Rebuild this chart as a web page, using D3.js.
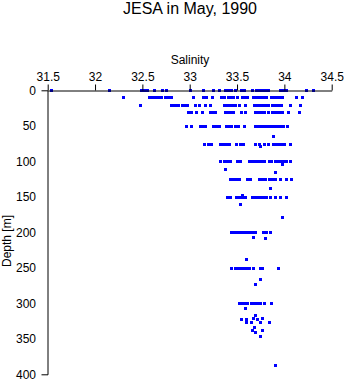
<!DOCTYPE html>
<html><head><meta charset="utf-8">
<script src="https://cdn.jsdelivr.net/npm/d3@7"></script>
<style>body{margin:0;background:#fff}svg{display:block}text{font-family:"Liberation Sans",Arial,sans-serif}</style>
</head><body><div id="chart"></div>
<script>
const xTicks = [31.5, 32, 32.5, 33, 33.5, 34, 34.5];
const yTicks = [0, 50, 100, 150, 200, 250, 300, 350, 400];

const rowDepths = [0, 10, 20, 30, 50, 75, 100, 125, 150, 200, 250, 300];
const sal0 = [31.535, 32.148, 32.486, 32.507, 32.528, 32.549, 32.623, 32.707, 32.75, 33.003, 33.14, 33.246, 33.309, 33.373, 33.405, 33.436, 33.479, 33.542, 33.574, 33.658, 33.70, 33.732, 33.764, 33.795, 33.827, 33.954, 33.986, 34.017, 34.228, 34.302];
const sal10 = [32.30, 32.57, 32.59, 32.61, 32.63, 32.67, 32.70, 32.74, 32.77, 32.80, 33.03, 33.14, 33.17, 33.24, 33.33, 33.36, 33.40, 33.43, 33.46, 33.50, 33.55, 33.58, 33.61, 33.67, 33.70, 33.72, 33.75, 33.78, 33.81, 33.86, 33.89, 33.92, 33.95, 33.97, 34.12, 34.19];
const sal20 = [32.48, 32.80, 32.82, 32.86, 32.88, 32.92, 32.95, 32.97, 33.06, 33.10, 33.16, 33.21, 33.36, 33.39, 33.42, 33.45, 33.48, 33.52, 33.58, 33.68, 33.71, 33.74, 33.77, 33.80, 33.83, 33.87, 33.90, 33.93, 33.96, 34.06, 34.16];
const sal30 = [32.98, 33.01, 33.07, 33.13, 33.21, 33.23, 33.25, 33.27, 33.37, 33.40, 33.43, 33.46, 33.54, 33.58, 33.69, 33.72, 33.75, 33.78, 33.83, 33.87, 33.90, 33.93, 33.96, 33.98, 34.04, 34.15];
const sal50 = [32.96, 33.01, 33.11, 33.14, 33.16, 33.25, 33.28, 33.31, 33.38, 33.40, 33.44, 33.48, 33.51, 33.57, 33.69, 33.72, 33.75, 33.78, 33.81, 33.84, 33.87, 33.90, 33.93, 33.96, 33.99, 34.03];
const sal75 = [33.15, 33.19, 33.23, 33.32, 33.35, 33.38, 33.42, 33.49, 33.53, 33.56, 33.69, 33.73, 33.78, 33.83, 33.88, 33.91, 33.94, 33.97, 34.00, 34.06];
const sal100 = [33.32, 33.36, 33.39, 33.43, 33.50, 33.53, 33.63, 33.66, 33.69, 33.72, 33.75, 33.78, 33.84, 33.86, 33.90, 33.93, 33.96, 33.99, 34.02, 34.06];
const sal125 = [33.43, 33.46, 33.49, 33.52, 33.61, 33.64, 33.73, 33.76, 33.80, 33.84, 33.87, 33.90, 33.95, 34.02, 34.07];
const sal150 = [33.39, 33.43, 33.49, 33.52, 33.55, 33.58, 33.66, 33.69, 33.72, 33.75, 33.78, 33.81, 33.85, 33.90, 33.95, 34.02];
const sal200 = [33.44, 33.47, 33.50, 33.53, 33.56, 33.59, 33.63, 33.66, 33.69, 33.77, 33.81, 33.85];
const sal250 = [33.44, 33.48, 33.51, 33.54, 33.57, 33.60, 33.63, 33.67, 33.74, 33.76, 33.93];
const sal300 = [33.52, 33.55, 33.58, 33.61, 33.65, 33.68, 33.71, 33.74, 33.78, 33.86];
const rowSal = [sal0, sal10, sal20, sal30, sal50, sal75, sal100, sal125, sal150, sal200, sal250, sal300];

const extraDepth = [64, 79, 104, 111, 115, 137, 147, 160, 179, 207, 208, 237, 266, 273, 306, 316, 320, 321, 322, 322, 322, 326, 326, 327, 326, 333, 337, 337, 341, 346, 387];
const extraSal =   [33.88, 33.74, 33.97, 33.37, 33.90, 33.85, 33.55, 33.53, 33.97, 33.67, 33.80, 33.59, 33.74, 33.69, 33.58, 33.69, 33.67, 33.76, 33.54, 33.59, 33.71, 33.59, 33.65, 33.74, 33.84, 33.68, 33.76, 33.66, 33.69, 33.74, 33.90];

const W = 346, H = 384;
const svg = d3.select("#chart").append("svg").attr("width", W).attr("height", H);

const x = d3.scaleLinear().domain([31.5, 34.5]).range([47.7, 331.7]);
const y = d3.scaleLinear().domain([0, 400]).range([90.3, 374.3]);

const pts = [];
rowDepths.forEach((d, i) => rowSal[i].forEach(s => pts.push({s, d})));
extraDepth.forEach((d, i) => pts.push({s: extraSal[i], d}));

svg.append("g").selectAll("rect").data(pts).join("rect")
  .attr("x", p => Math.round(x(p.s)) - 1)
  .attr("y", p => Math.round(y(p.d)) - 1)
  .attr("width", 3).attr("height", 3)
  .attr("fill", "#0000ff").attr("shape-rendering", "crispEdges");

const xAxis = svg.append("g").attr("transform", "translate(0,90.5)")
  .call(d3.axisTop(x).tickValues(xTicks).tickSize(6).tickSizeOuter(0).tickPadding(4).tickFormat(d => String(d)));
const yAxis = svg.append("g").attr("transform", "translate(47.5,0)")
  .call(d3.axisLeft(y).tickValues(yTicks).tickSizeInner(0).tickSizeOuter(6).tickPadding(11.5).tickFormat(d => String(d)));
[xAxis, yAxis].forEach(g => {
  g.selectAll("text").attr("font-size", 12).attr("font-family", "Liberation Sans, Arial, sans-serif").attr("fill", "#000");
  g.selectAll("path,line").attr("stroke", "#000");
});

svg.append("text").attr("x", 190).attr("y", 64).attr("text-anchor", "middle")
  .attr("font-size", 12).text("Salinity");
svg.append("text").attr("transform", "translate(10.5,241) rotate(-90)").attr("text-anchor", "middle")
  .attr("font-size", 12).text("Depth [m]");
svg.append("text").attr("x", 190).attr("y", 14).attr("text-anchor", "middle")
  .attr("font-size", 16).text("JESA in May, 1990");
</script></body></html>
